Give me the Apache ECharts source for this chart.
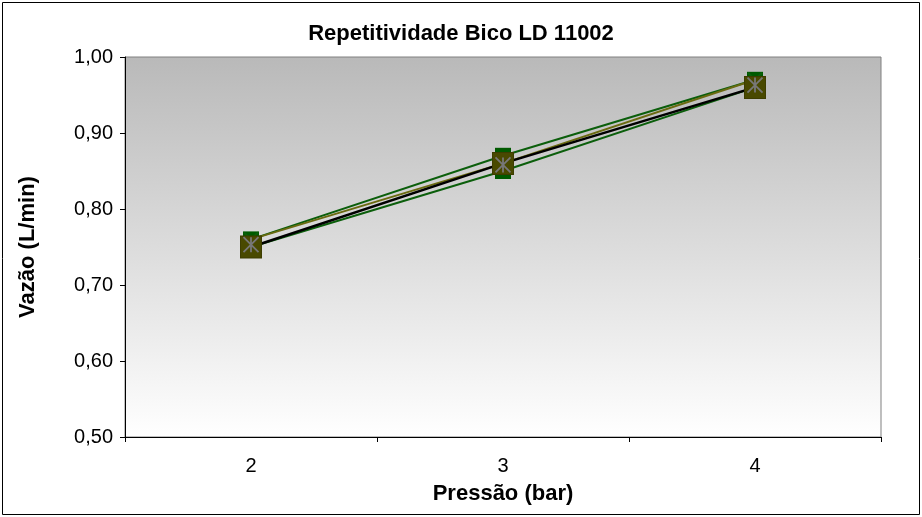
<!DOCTYPE html>
<html><head><meta charset="utf-8">
<script src="https://cdn.jsdelivr.net/npm/echarts@6/dist/echarts.min.js"></script>
<style>html,body{margin:0;padding:0;background:#fff}#c{width:922px;height:517px}</style>
</head><body><div id="c"></div>
<script>
const categories = ['2', '3', '4'];
const rep1 = [0.76, 0.87, 0.97];
const rep2 = [0.76, 0.86, 0.97];
const rep3 = [0.75, 0.86, 0.96];
const rep4 = [0.75, 0.85, 0.96];
const media = [0.753, 0.858, 0.963];
const yTicks = { min: 0.5, max: 1.0, interval: 0.1 };

const font = 'Liberation Sans, Arial, sans-serif';
const X_PATH = 'path://M0,0L10,10M10,0L0,10';
const AST_PATH = 'path://M0,0L10,10M10,0L0,10M5,0L5,10';

const chart = echarts.init(document.getElementById('c'));
chart.setOption({
  animation: false,
  backgroundColor: '#ffffff',
  title: {
    text: 'Repetitividade Bico LD 11002', left: 'center', top: 18,
    textStyle: { fontFamily: font, fontSize: 22, fontWeight: 'bold', color: '#000' }
  },
  graphic: [{
    type: 'rect', shape: { x: 2.5, y: 2.5, width: 917, height: 512 },
    style: { fill: 'none', stroke: '#000', lineWidth: 1 }, z: -1
  }],
  grid: {
    left: 125, right: 41, top: 57, bottom: 80, show: true,
    borderColor: '#808080', borderWidth: 1,
    backgroundColor: new echarts.graphic.LinearGradient(0, 0, 0, 1, [
      { offset: 0, color: '#b9b9b9' }, { offset: 1, color: '#ffffff' }
    ])
  },
  xAxis: {
    type: 'category', data: categories, boundaryGap: true,
    name: 'Pressão (bar)', nameLocation: 'middle', nameGap: 46,
    nameTextStyle: { fontFamily: font, fontSize: 22, fontWeight: 'bold', color: '#000' },
    axisLine: { lineStyle: { color: '#000', width: 1 } },
    axisTick: { show: true, length: 5, lineStyle: { color: '#000' } },
    axisLabel: { fontFamily: font, fontSize: 20, color: '#000', margin: 19 },
    splitLine: { show: false }
  },
  yAxis: {
    type: 'value', min: yTicks.min, max: yTicks.max, interval: yTicks.interval,
    name: 'Vazão (L/min)', nameLocation: 'middle', nameGap: 86, nameRotate: 90,
    nameTextStyle: { fontFamily: font, fontSize: 22, fontWeight: 'bold', color: '#000' },
    axisLine: { show: true, lineStyle: { color: '#000', width: 1 } },
    axisTick: { show: true, length: 5, lineStyle: { color: '#000' } },
    axisLabel: { fontFamily: font, fontSize: 20, color: '#000', margin: 12,
      formatter: v => v.toFixed(2).replace('.', ',') },
    splitLine: { show: false }
  },
  series: [
    { name: 'R1', type: 'line', data: rep1, symbol: 'rect', symbolSize: 16,
      itemStyle: { color: '#005a00' }, lineStyle: { color: '#0b5e0b', width: 2 } },
    { name: 'R4', type: 'line', data: rep4, symbol: 'rect', symbolSize: 16,
      itemStyle: { color: '#005a00' }, lineStyle: { color: '#0b5e0b', width: 2 } },
    { name: 'R2', type: 'line', data: rep2, symbol: X_PATH, symbolSize: 14,
      itemStyle: { color: 'none', borderColor: '#0a600a', borderWidth: 2 },
      lineStyle: { color: '#6a6a10', width: 2 } },
    { name: 'R3', type: 'line', data: rep3, symbol: 'rect', symbolSize: [21, 22],
      itemStyle: { color: '#494900', borderColor: '#3d3d00', borderWidth: 1 },
      lineStyle: { color: '#000', width: 2.5 } },
    { name: 'Média', type: 'line', data: media, symbol: AST_PATH, symbolSize: 15,
      itemStyle: { color: 'none', borderColor: '#777777', borderWidth: 1.8 },
      lineStyle: { opacity: 0 } }
  ]
});
</script></body></html>
